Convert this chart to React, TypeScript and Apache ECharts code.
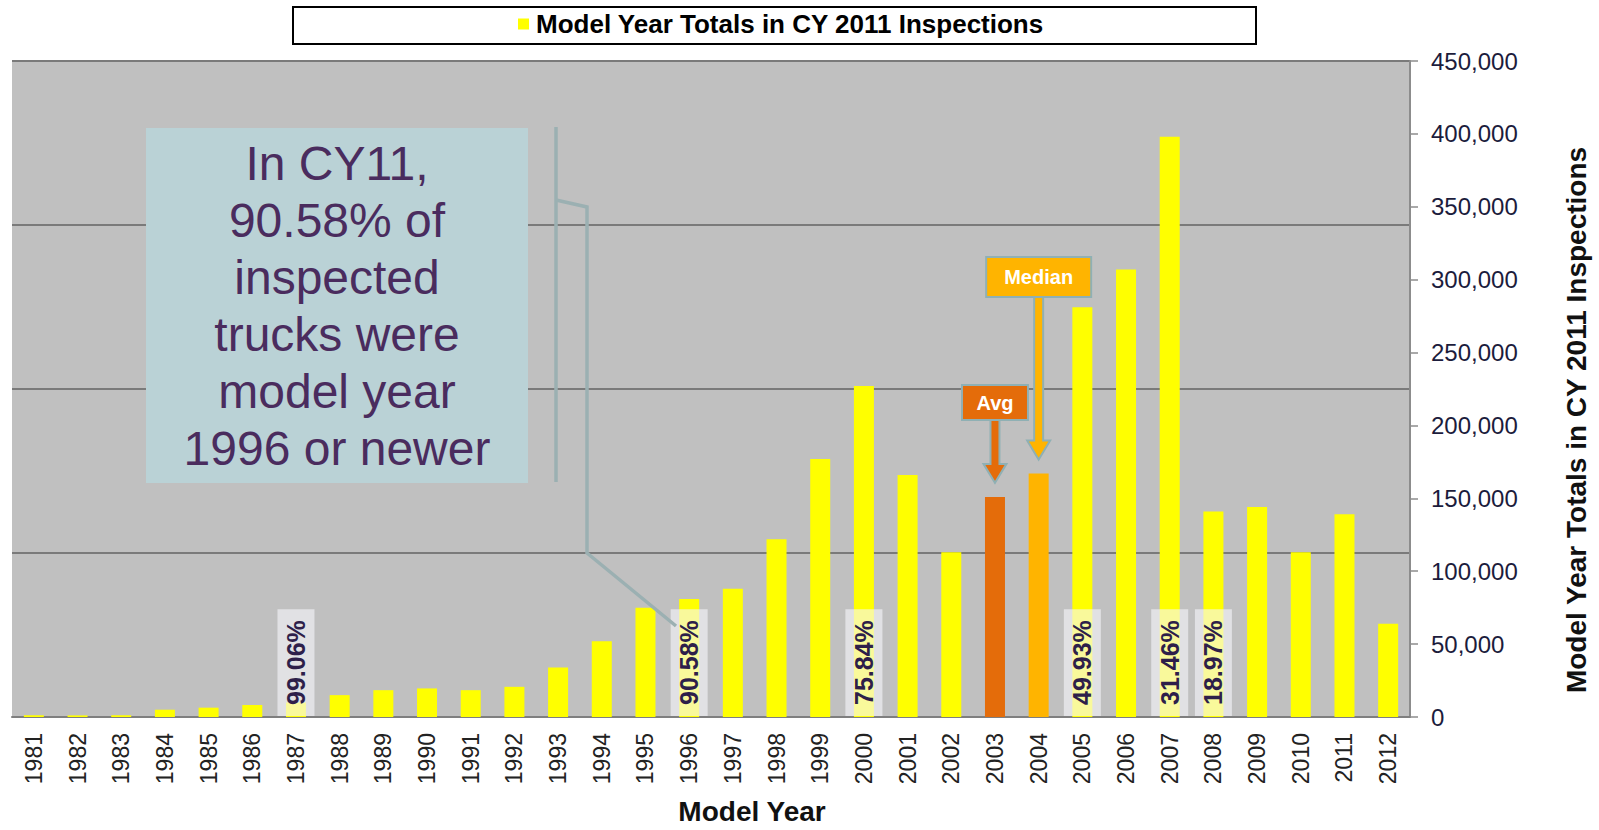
import React, { useEffect, useRef } from "react";
import * as echarts from "echarts";

const years = [
  "1981", "1982", "1983", "1984", "1985", "1986", "1987", "1988", "1989", "1990",
  "1991", "1992", "1993", "1994", "1995", "1996", "1997", "1998", "1999", "2000",
  "2001", "2002", "2003", "2004", "2005", "2006", "2007", "2008", "2009", "2010",
  "2011", "2012",
];
const totals = [
  1200, 1100, 1200, 5000, 6400, 8300, 9900, 15000, 18400, 19600,
  18400, 20700, 34000, 52000, 75000, 81000, 88000, 122000, 177000, 227000,
  166000, 113000, 151000, 167000, 281000, 307000, 398000, 141000, 144000, 113000,
  139000, 64000,
];
const pctYears = ["1987", "1996", "2000", "2005", "2007", "2008"];
const pctTexts = ["99.06%", "90.58%", "75.84%", "49.93%", "31.46%", "18.97%"];
const avgYear = "2003";
const medianYear = "2004";
const seriesName = "Model Year Totals in CY 2011 Inspections";
const xTitle = "Model Year";
const yTitle = "Model Year Totals in CY 2011 Inspections";
const noteLines = ["In CY11,", "90.58% of", "inspected", "trucks were", "model year", "1996 or newer"];

const FONT = "'Liberation Sans', Arial, Helvetica, sans-serif";
const YELLOW = "#ffff00";
const AVG_COLOR = "#e46c0a";
const MED_COLOR = "#ffb400";
const CALLOUT_BORDER = "#8fb0b4";

export default function App() {
  const ref = useRef<HTMLDivElement>(null);

  useEffect(() => {
    if (!ref.current) return;
    const chart = echarts.init(ref.current, null, { renderer: "svg" });

    const data = totals.map((v, i) => {
      const y = years[i];
      const item: any = { value: v };
      if (y === avgYear) item.itemStyle = { color: AVG_COLOR };
      else if (y === medianYear) item.itemStyle = { color: MED_COLOR };
      const k = pctYears.indexOf(y);
      if (k >= 0) {
        item.label = {
          show: true,
          formatter: pctTexts[k],
          position: "insideBottom",
          rotate: 90,
          align: "left",
          verticalAlign: "middle",
          distance: 1,
          fontSize: 25,
          fontWeight: "bold",
          fontFamily: FONT,
          color: "#2e1f4a",
          backgroundColor: "rgba(245,245,250,0.62)",
          padding: [4, 11, 4, 11],
          lineHeight: 29,
        };
      }
      return item;
    });

    const option: any = {
      animation: false,
      backgroundColor: "#ffffff",
      legend: {
        z: 10,
        left: 518,
        top: 11,
        padding: 0,
        itemWidth: 11,
        itemHeight: 11,
        itemGap: 6,
        icon: "rect",
        data: [{ name: seriesName, icon: "rect" }],
        textStyle: { fontSize: 26, fontWeight: "bold", fontFamily: FONT, color: "#000", padding: [0, 0, 0, 2] },
        selectedMode: false,
      },
      grid: {
        left: 12,
        right: 189,
        top: 61,
        bottom: 113,
        show: true,
        backgroundColor: "#c0c0c0",
        borderWidth: 0,
      },
      xAxis: {
        type: "category",
        data: years,
        boundaryGap: true,
        axisLine: { show: true, lineStyle: { color: "#7f7f7f", width: 2 } },
        axisTick: { show: false },
        axisLabel: {
          rotate: 90,
          margin: 16,
          fontSize: 23,
          fontFamily: FONT,
          color: "#222",
          interval: 0,
        },
        splitLine: { show: false },
      },
      yAxis: [
        {
          type: "value",
          position: "left",
          min: 0,
          max: 450000,
          interval: 112500,
          axisLine: { show: false },
          axisTick: { show: false },
          axisLabel: { show: false },
          splitLine: { show: true, lineStyle: { color: "#7a7a7a", width: 2 } },
        },
        {
          type: "value",
          position: "right",
          min: 0,
          max: 450000,
          interval: 50000,
          axisLine: { show: true, lineStyle: { color: "#8c8c8c", width: 2 } },
          axisTick: { show: true, length: 8, lineStyle: { color: "#8c8c8c", width: 1.5 } },
          axisLabel: {
            margin: 21,
            fontSize: 24,
            fontFamily: FONT,
            color: "#1c1c3c",
            formatter: (v: number) => v.toLocaleString("en-US"),
          },
          splitLine: { show: false },
        },
      ],
      series: [
        {
          name: seriesName,
          type: "bar",
          yAxisIndex: 1,
          barWidth: 20,
          itemStyle: { color: YELLOW },
          data,
        },
      ],
    };
    chart.setOption(option);

    const callout = (year: string, text: string, fill: string, boxW: number, boxH: number, boxTop: number, fs: number) => {
      const idx = years.indexOf(year);
      const cx = chart.convertToPixel({ xAxisIndex: 0 }, year) as number;
      const barTop = chart.convertToPixel({ yAxisIndex: 1 }, totals[idx]) as number;
      const tip = barTop - 14;
      const headH = 19;
      const shaftHalf = 4.5;
      const headHalf = 11.5;
      const boxBottom = boxTop + boxH;
      return [
        {
          type: "polygon",
          z: 20,
          shape: {
            points: [
              [cx - shaftHalf, boxBottom - 2],
              [cx - shaftHalf, tip - headH],
              [cx - headHalf, tip - headH],
              [cx, tip],
              [cx + headHalf, tip - headH],
              [cx + shaftHalf, tip - headH],
              [cx + shaftHalf, boxBottom - 2],
            ],
          },
          style: { fill, stroke: CALLOUT_BORDER, lineWidth: 2 },
        },
        {
          type: "rect",
          z: 21,
          shape: { x: cx - boxW / 2, y: boxTop, width: boxW, height: boxH },
          style: { fill, stroke: CALLOUT_BORDER, lineWidth: 2 },
        },
        {
          type: "text",
          z: 22,
          x: cx,
          y: boxTop + boxH / 2,
          style: {
            text,
            fill: "#ffffff",
            fontSize: fs,
            fontWeight: "bold",
            fontFamily: FONT,
            align: "center",
            verticalAlign: "middle",
          },
        },
      ];
    };

    const graphics: any[] = [
      {
        type: "rect",
        z: 0,
        shape: { x: 293, y: 7, width: 963, height: 37 },
        style: { fill: "#ffffff", stroke: "#000000", lineWidth: 2 },
      },
      {
        type: "rect",
        z: 15,
        shape: { x: 146, y: 128, width: 382, height: 355 },
        style: { fill: "#bad2d6" },
      },
      {
        type: "text",
        z: 16,
        x: 337,
        y: 306,
        style: {
          text: noteLines.join("\n"),
          fill: "#4a2c5e",
          fontSize: 48,
          lineHeight: 57,
          fontFamily: FONT,
          align: "center",
          verticalAlign: "middle",
        },
      },
      {
        type: "line",
        z: 15,
        shape: { x1: 556, y1: 127, x2: 556, y2: 482 },
        style: { stroke: "#9bb0b2", lineWidth: 3.5 },
      },
      {
        type: "polyline",
        z: 15,
        shape: { points: [[556, 200], [587, 207], [587, 553], [676, 626]] },
        style: { stroke: "#9bb0b2", lineWidth: 3.5, fill: null },
      },
      {
        type: "text",
        z: 15,
        x: 752,
        y: 811,
        style: {
          text: xTitle,
          fill: "#111",
          fontSize: 28,
          fontWeight: "bold",
          fontFamily: FONT,
          align: "center",
          verticalAlign: "middle",
        },
      },
      {
        type: "text",
        z: 15,
        x: 1576,
        y: 420,
        rotation: Math.PI / 2,
        style: {
          text: yTitle,
          fill: "#111",
          fontSize: 28,
          fontWeight: "bold",
          fontFamily: FONT,
          align: "center",
          verticalAlign: "middle",
        },
      },
      ...callout(avgYear, "Avg", AVG_COLOR, 66, 35, 385, 20),
      ...callout(medianYear, "Median", MED_COLOR, 105, 40, 257, 20),
    ];
    chart.setOption({ graphic: graphics });

    return () => {
      chart.dispose();
    };
  }, []);

  return (
    <div
      ref={ref}
      style={{ position: "absolute", left: 0, top: 0, width: 1599, height: 830 }}
    />
  );
}
